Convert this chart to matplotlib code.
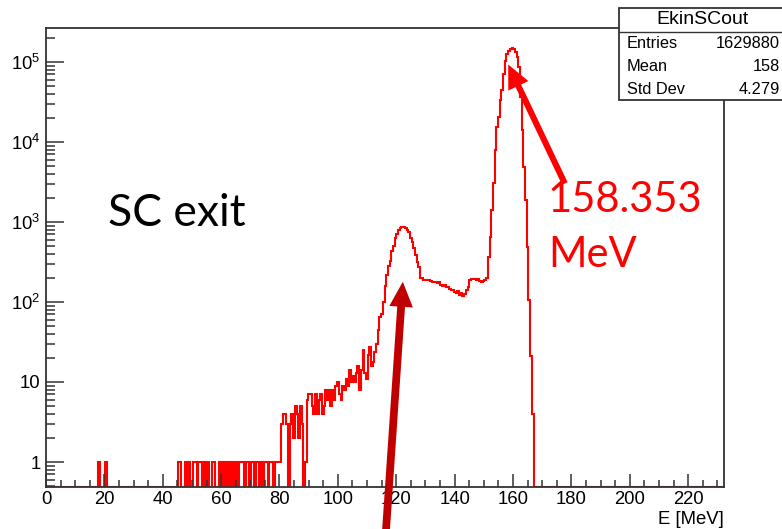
import numpy as np
import matplotlib
matplotlib.use("Agg")
import matplotlib.pyplot as plt
from matplotlib.patches import FancyArrowPatch, Rectangle
from matplotlib.lines import Line2D
from matplotlib.transforms import IdentityTransform

# ---------------- data ----------------
bin_lo, bin_hi, n_bins = 0.0, 232.0, 400
# isolated single-count bins (energies in MeV)
single_count_E = [18.2, 20.7, 45.6, 46.2, 47.8, 49.0, 50.5, 51.2, 52.3, 52.9,
                  54.4, 55.6, 57.3, 57.9, 59.7, 60.5, 61.9, 63.0, 64.2, 65.5,
                  66.4, 67.0, 67.6, 68.7, 69.5, 70.5, 71.3, 72.2, 73.0, 73.9]
# contiguous region counts, starting at bin index first_bin
first_bin = 129
counts = [1, 1, 0, 1, 1, 0, 1, 1, 1, 1,
          3, 4, 4, 3, 0, 3, 4, 2, 5, 4,
          2, 5, 3, 0, 1, 6, 7, 7, 5, 4,
          7, 4, 6, 7, 4, 5, 8, 6, 8, 5,
          8, 6, 9, 10, 7, 6, 9, 8, 11, 9,
          14, 10, 12, 10, 13, 16, 8, 14, 25, 13,
          11, 22, 27, 16, 18, 24, 30, 45, 65, 70,
          100, 160, 215, 280, 330, 440, 500, 630, 700, 800,
          850, 860, 855, 830, 800, 740, 640, 560, 470, 390,
          320, 270, 200, 200, 190, 188, 190, 186, 182, 180,
          178, 180, 174, 176, 165, 160, 162, 152, 155, 145,
          140, 143, 135, 130, 136, 124, 128, 120, 126, 140,
          155, 190, 196, 192, 195, 190, 194, 185, 178, 182,
          190, 200, 360, 650, 1400, 3050, 7900, 15500, 20700, 33700,
          44800, 71500, 103000, 125000, 138000, 146000, 148000, 144000, 135000, 115000,
          87000, 36600, 14000, 4900, 1900, 490, 105, 21, 4]

stats_title = "EkinSCout"
stats_names = ["Entries", "Mean", "Std Dev"]
stats_values = ["1629880", "158", "4.279"]
y_tick_vals = [1, 10, 100, 1e3, 1e4, 1e5]
y_tick_labels = ["1", "10", r"10$^{2}$", r"10$^{3}$", r"10$^{4}$", r"10$^{5}$"]
x_tick_vals = list(range(0, 221, 20))

# ---------------- build histogram ----------------
edges = np.linspace(bin_lo, bin_hi, n_bins + 1)
values = np.histogram(single_count_E, bins=edges)[0].astype(float)
values[first_bin:first_bin + len(counts)] = counts

W, H = 782, 529
plt.rcParams['font.family'] = ['Liberation Sans', 'DejaVu Sans']
plt.rcParams['mathtext.fontset'] = 'custom'
plt.rcParams['mathtext.rm'] = 'Liberation Sans'
plt.rcParams['mathtext.it'] = 'Liberation Sans'
plt.rcParams['mathtext.default'] = 'regular'

fig = plt.figure(figsize=(W / 100, H / 100), dpi=100)
fig.patch.set_facecolor('white')

def px(x, y):
    """top-left pixel coords -> display coords"""
    return (x, H - y)

ax_l, ax_r, ax_t, ax_b = 46, 724, 28, 487
ax = fig.add_axes([ax_l / W, 1 - ax_b / H, (ax_r - ax_l) / W, (ax_b - ax_t) / H])

ymin, ymax = 0.487, 2.66e5
ax.set_yscale('log')
ax.set_xlim(bin_lo, 232.3)
ax.set_ylim(ymin, ymax)

ax.stairs(np.maximum(values, ymin), edges, color='#ff0000', lw=1.5, baseline=None)

for s in ax.spines.values():
    s.set_color('#333333')
    s.set_linewidth(1.3)

ax.set_xticks(x_tick_vals)
ax.set_xticks(np.arange(0, 232.3, 5), minor=True)
ax.set_yticks(y_tick_vals)
ax.set_yticklabels(y_tick_labels)
ax.yaxis.set_minor_locator(matplotlib.ticker.LogLocator(base=10, subs=np.arange(2, 10), numticks=20))
ax.yaxis.set_minor_formatter(matplotlib.ticker.NullFormatter())
ax.tick_params(axis='x', which='major', direction='in', length=9.5, width=1.1, color='#333333',
               labelsize=13.3, pad=3, top=False)
ax.tick_params(axis='x', which='minor', direction='in', length=5, width=1.1, color='#333333', top=False)
ax.tick_params(axis='y', which='major', direction='in', length=13, width=1.1, color='#333333',
               labelsize=13.3, pad=4, right=False)
ax.tick_params(axis='y', which='minor', direction='in', length=6.5, width=1.1, color='#333333', right=False)

fig.text(ax_r / W, 1 - 519 / H, "E [MeV]", ha='right', va='center', fontsize=13.3)

# ---------------- stats box ----------------
bx0, by0, bx1, by1 = 619, 8, 795, 100
rect = Rectangle(px(bx0, by1), bx1 - bx0, by1 - by0, transform=IdentityTransform(),
                 facecolor='white', edgecolor='#333333', lw=1.3, zorder=10)
fig.patches.append(rect)
fig.lines.append(Line2D([bx0, bx1], [H - 32, H - 32], transform=IdentityTransform(),
                        color='#333333', lw=1.0, zorder=11))
fig.text(703 / W, 1 - 19 / H, stats_title, ha='center', va='center', fontsize=14, zorder=12)
for i, (nm, vv) in enumerate(zip(stats_names, stats_values)):
    yy = [44, 66.5, 89][i]
    fig.text(627 / W, 1 - yy / H, nm, ha='left', va='center', fontsize=11.8, zorder=12)
    fig.text(780 / W, 1 - yy / H, vv, ha='right', va='center', fontsize=11.8, zorder=12)

# ---------------- annotations ----------------
fig.text(108 / W, 1 - 214 / H, "SC exit", ha='left', va='center', fontsize=32,
         family=['Lato', 'DejaVu Sans'], color='black')
fig.text(548 / W, 1 - 200 / H, "158.353", ha='left', va='center', fontsize=30,
         family=['Lato', 'DejaVu Sans'], color='#ff0000')
fig.text(548 / W, 1 - 255 / H, "MeV", ha='left', va='center', fontsize=30,
         family=['Lato', 'DejaVu Sans'], color='#ff0000')

a1 = FancyArrowPatch(px(566, 186), px(507, 62), transform=IdentityTransform(),
                     arrowstyle='simple,head_length=0.85,head_width=0.8,tail_width=0.22',
                     mutation_scale=20, color='#ff0000', lw=0, zorder=13)
fig.patches.append(a1)
a2 = FancyArrowPatch(px(385, 545), px(403, 279), transform=IdentityTransform(),
                     arrowstyle='simple,head_length=0.9,head_width=0.85,tail_width=0.28',
                     mutation_scale=20, color='#c00000', lw=0, zorder=13)
fig.patches.append(a2)

fig.savefig("out.png", dpi=100)
